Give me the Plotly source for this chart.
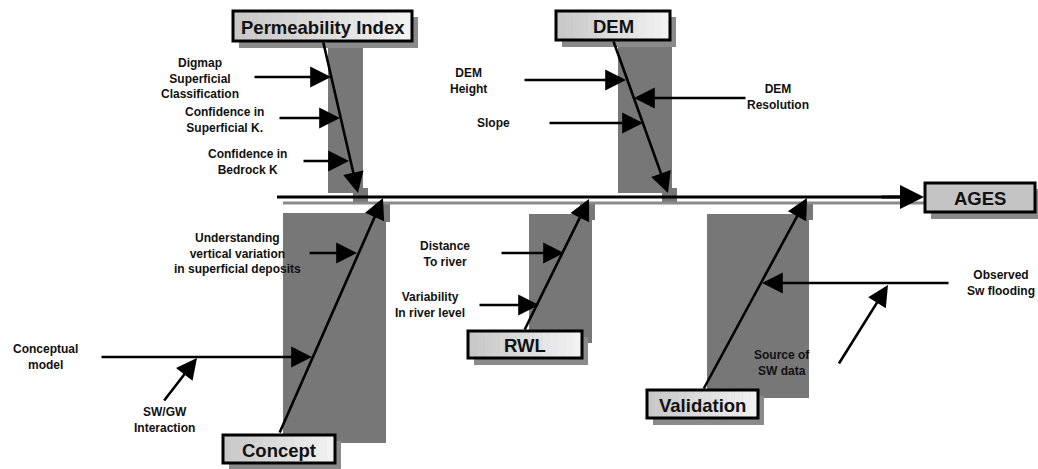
import plotly.graph_objects as go

# ---- diagram content ----
effect = "AGES"
categories = ["Permeability Index", "DEM", "Concept", "RWL", "Validation"]
causes = {
    "Permeability Index": ["Digmap<br>Superficial<br>Classification",
                           "Confidence in<br>Superficial K.",
                           "Confidence in<br>Bedrock K"],
    "DEM": ["DEM<br>Height", "DEM<br>Resolution", "Slope"],
    "Concept": ["Understanding<br>vertical variation<br>in superficial deposits",
                "Conceptual<br>model"],
    "RWL": ["Distance<br>To river", "Variability<br>In river level"],
    "Validation": ["Observed<br>Sw flooding"],
}
sub_causes = {"Conceptual<br>model": "SW/GW<br>Interaction",
              "Observed<br>Sw flooding": "Source of<br>SW data"}

# ---- layout geometry (pixel space) ----
W, H = 1038, 469
GRAY = "#777777"
SHADOW = "#8a8a8a"
FONT = "Liberation Sans, Arial, sans-serif"

boxes = {  # x0, y0, x1, y1
    "Permeability Index": (233, 11, 412, 41),
    "DEM": (556, 11, 670, 40),
    "Concept": (223, 435, 335, 463),
    "RWL": (468, 331, 582, 358),
    "Validation": (647, 390, 758, 418),
    "AGES": (925, 183, 1035, 212),
}
panels = {
    "Permeability Index": [(328, 44, 363, 193), (353, 188, 368, 202)],
    "DEM": [(618, 44, 672, 193), (662, 188, 677, 202)],
    "Concept": [(283, 213, 386, 443), (375, 204, 390, 222)],
    "RWL": [(529, 214, 592, 343), (580, 203, 595, 220)],
    "Validation": [(707, 214, 809, 398), (803, 203, 813, 220)],
}
bones = {  # tail (at box) -> tip (at spine)
    "Permeability Index": ((323, 41), (358, 193)),
    "DEM": ((613, 40), (668, 193)),
    "Concept": ((279, 434), (383, 198)),
    "RWL": ((524, 331), (589, 199)),
    "Validation": ((703, 390), (807, 198)),
}
cause_arrows = {  # tail, tip, label center
    "Digmap<br>Superficial<br>Classification": ((253, 77), (331, 77), (200, 78)),
    "Confidence in<br>Superficial K.": ((278, 118), (340, 118), (224, 120)),
    "Confidence in<br>Bedrock K": ((302, 161), (349, 161), (247, 162)),
    "DEM<br>Height": ((523, 80), (626, 80), (468, 81)),
    "DEM<br>Resolution": ((747, 98), (634, 98), (778, 97)),
    "Slope": ((548, 123), (643, 123), (493, 123)),
    "Understanding<br>vertical variation<br>in superficial deposits": ((308, 253), (357, 253), (237, 253)),
    "Conceptual<br>model": ((100, 357), (312, 357), (45, 357)),
    "Distance<br>To river": ((500, 253), (564, 253), (445, 254)),
    "Variability<br>In river level": ((478, 305), (539, 305), (430, 305)),
    "Observed<br>Sw flooding": ((950, 283), (762, 283), (1001, 283)),
}
sub_arrows = {
    "SW/GW<br>Interaction": ((163, 402), (197, 358), (164, 420)),
    "Source of<br>SW data": ((838, 365), (888, 285), (782, 363)),
}

shapes = []
annotations = []

def rect(x0, y0, x1, y1, fill, line=None, lw=0):
    shapes.append(dict(type="rect", xref="x", yref="y", x0=x0, y0=y0, x1=x1, y1=y1,
                       fillcolor=fill, line=dict(color=line or fill, width=lw),
                       layer="above"))

def seg(x0, y0, x1, y1, color, w):
    shapes.append(dict(type="line", xref="x", yref="y", x0=x0, y0=y0, x1=x1, y1=y1,
                       line=dict(color=color, width=w), layer="above"))

def arrow(tail, tip, w=2.6):
    annotations.append(dict(x=tip[0], y=tip[1], ax=tail[0], ay=tail[1],
                            xref="x", yref="y", axref="x", ayref="y",
                            text="", showarrow=True, arrowhead=2, arrowsize=1.6,
                            arrowwidth=w, arrowcolor="black", standoff=0))

def label(txt, pos, size=12):
    annotations.append(dict(x=pos[0], y=pos[1], xref="x", yref="y", text=txt,
                            showarrow=False, align="center",
                            font=dict(family=FONT, size=size, color="#111111", weight="bold")))

# panels
for c in categories:
    for p in panels[c]:
        rect(*p, GRAY)

# spine with shadow
seg(283, 203, 925, 203, SHADOW, 3)
seg(277, 197, 912, 197, "black", 3)
arrow((880, 197), (924, 197), 3)

# bones
for c in categories:
    tail, tip = bones[c]
    arrow(tail, tip, 2.6)

# cause arrows + labels
for c in categories:
    for cause in causes[c]:
        tail, tip, lp = cause_arrows[cause]
        arrow(tail, tip, 2.6)
        label(cause, lp)
        if cause in sub_causes:
            s = sub_causes[cause]
            stail, stip, slp = sub_arrows[s]
            arrow(stail, stip, 2.6)
            label(s, slp)

# boxes with shadows (light gradient fill for category boxes)
N_STRIPS = 14
for name in categories + [effect]:
    x0, y0, x1, y1 = boxes[name]
    rect(x0 + 6, y0 + 6, x1 + 6, y1 + 7, SHADOW)
    if name == effect:
        rect(x0, y0, x1, y1, "#c4c4c4")
    else:
        step = (x1 - x0) / N_STRIPS
        for i in range(N_STRIPS):
            t = i / (N_STRIPS - 1)
            v = int(200 + (242 - 200) * t)
            rect(x0 + i * step, y0, x0 + (i + 1) * step + 0.5, y1, f"rgb({v},{v},{v})")
    shapes.append(dict(type="rect", xref="x", yref="y", x0=x0, y0=y0, x1=x1, y1=y1,
                       fillcolor="rgba(0,0,0,0)", line=dict(color="black", width=3),
                       layer="above"))
    label(name, ((x0 + x1) / 2, (y0 + y1) / 2 + 1), 18.5)

fig = go.Figure()
fig.update_layout(
    width=W, height=H, margin=dict(l=0, r=0, t=0, b=0),
    paper_bgcolor="white", plot_bgcolor="white",
    xaxis=dict(range=[0, W], visible=False, fixedrange=True),
    yaxis=dict(range=[H, 0], visible=False, fixedrange=True),
    shapes=shapes, annotations=annotations, showlegend=False,
)
fig.write_html("out.html", config={"displayModeBar": False},
               post_script="document.body.style.margin='0';document.body.style.overflow='hidden';")
